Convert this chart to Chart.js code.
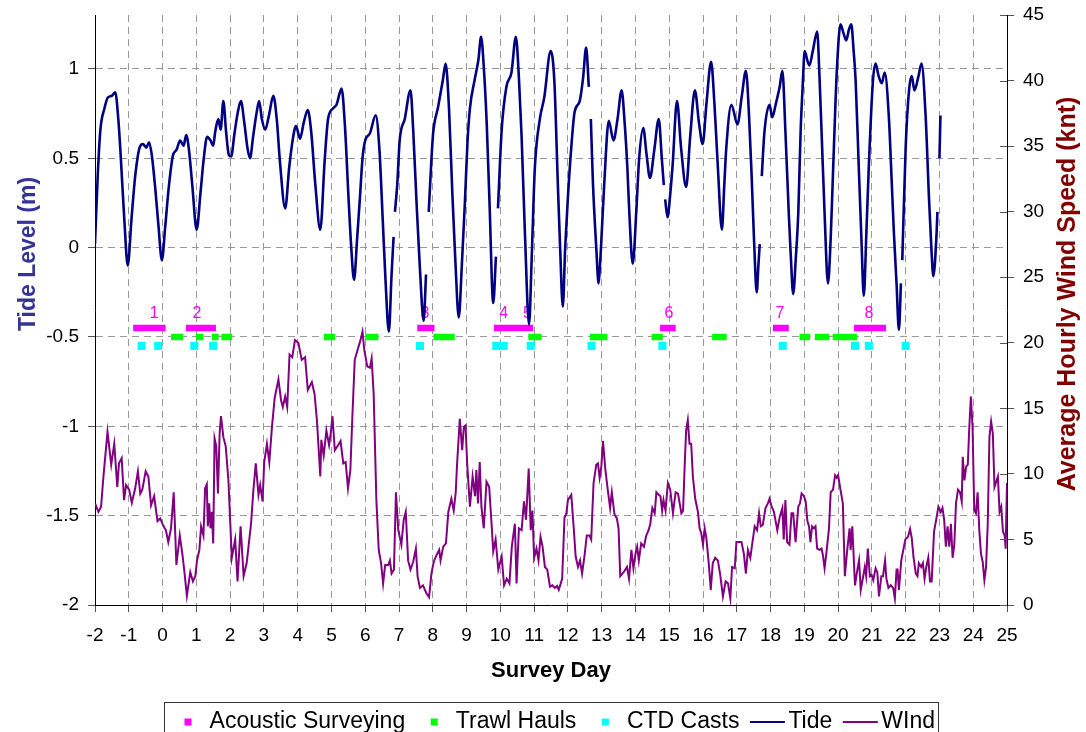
<!DOCTYPE html>
<html>
<head>
<meta charset="utf-8">
<title>Survey tide and wind record</title>
<script src="https://cdn.jsdelivr.net/npm/chart.js@4.4.1/dist/chart.umd.min.js"></script>
<style>
  html, body { margin: 0; padding: 0; background: #ffffff; }
  #wrap { width: 1086px; height: 732px; position: relative; overflow: hidden; }
</style>
</head>
<body>
<div id="wrap"><canvas id="chart" width="1086" height="732"></canvas></div>
<script>
// ---- Axis ticks ----
const dayTicks  = [-2,-1,0,1,2,3,4,5,6,7,8,9,10,11,12,13,14,15,16,17,18,19,20,21,22,23,24,25];
const tideTicks = [-2,-1.5,-1,-0.5,0,0.5,1];
const windTicks = [0,5,10,15,20,25,30,35,40,45];

// ---- Tide level (m) by survey day; null marks a break in the record ----
const tideDays = [
  -2.00,-1.92,-1.84,-1.72,-1.62,-1.50,-1.40,-1.31,-1.25,-1.13,
  -1.03,-0.92,-0.81,-0.68,-0.58,-0.48,-0.40,-0.32,-0.22,-0.12,
  -0.02,0.08,0.18,0.30,0.42,0.52,0.62,0.70,0.78,0.88,
  1.01,1.12,1.22,1.32,1.42,1.50,1.56,1.65,1.72,1.80,
  1.88,1.96,2.03,2.13,2.22,2.32,2.42,2.52,2.59,2.68,
  2.78,2.86,2.94,3.04,3.15,3.28,3.38,3.48,3.63,3.75,
  3.85,3.95,4.07,4.18,4.30,4.40,4.52,4.67,4.80,4.90,
  5.05,5.15,5.30,5.40,5.50,5.58,5.67,5.76,5.84,5.92,
  6.00,6.14,6.31,6.42,6.52,6.60,6.70,6.78,6.84,6.86,
  6.88,6.95,7.02,7.17,7.34,7.42,7.52,7.62,7.73,7.80,
  7.84,7.88,7.95,8.01,8.16,8.30,8.38,8.48,8.58,8.67,
  8.77,8.86,8.95,9.03,9.10,9.24,9.35,9.43,9.52,9.60,
  9.68,9.79,9.87,9.90,9.93,10.04,10.18,10.33,10.46,10.55,
  10.63,10.73,10.85,10.93,11.02,11.17,11.30,11.49,11.60,11.70,
  11.77,11.85,11.92,12.00,12.10,12.20,12.35,12.45,12.54,12.62,
  12.65,12.68,12.74,12.84,12.91,12.95,12.98,13.08,13.21,13.35,
  13.47,13.59,13.68,13.76,13.82,13.92,14.03,14.11,14.23,14.33,
  14.43,14.56,14.69,14.78,14.84,14.86,14.88,14.95,15.03,15.10,
  15.23,15.35,15.50,15.62,15.76,15.88,15.99,16.10,16.24,16.34,
  16.44,16.56,16.63,16.69,16.84,17.02,17.15,17.27,17.36,17.44,
  17.52,17.59,17.64,17.68,17.71,17.74,17.82,17.97,18.05,18.15,
  18.27,18.35,18.44,18.54,18.60,18.67,18.75,18.82,18.89,18.95,
  19.01,19.10,19.15,19.25,19.38,19.45,19.51,19.60,19.70,19.78,
  19.84,19.92,19.97,20.07,20.16,20.24,20.32,20.39,20.46,20.52,
  20.61,20.69,20.76,20.84,20.91,21.03,21.11,21.20,21.29,21.38,
  21.50,21.58,21.65,21.73,21.80,21.86,21.88,21.90,22.00,22.10,
  22.18,22.26,22.38,22.47,22.59,22.69,22.76,22.82,22.91,22.94,
  22.97,23.00,23.03
];
const tideLevels = [
  0.02,0.40,0.66,0.78,0.84,0.85,0.87,0.72,0.55,0.15,
  -0.10,0.16,0.40,0.56,0.58,0.56,0.59,0.52,0.34,0.12,
  -0.07,0.12,0.33,0.51,0.55,0.60,0.57,0.63,0.55,0.35,
  0.10,0.30,0.50,0.62,0.60,0.57,0.65,0.72,0.66,0.82,
  0.65,0.52,0.51,0.64,0.75,0.82,0.70,0.55,0.50,0.62,
  0.75,0.82,0.72,0.66,0.74,0.85,0.72,0.47,0.22,0.45,
  0.60,0.68,0.61,0.70,0.77,0.65,0.36,0.10,0.49,0.72,
  0.78,0.80,0.89,0.68,0.30,0.02,-0.18,0.05,0.27,0.50,
  0.60,0.64,0.74,0.55,0.15,-0.18,-0.47,-0.15,0.06,null,
  0.20,0.36,0.60,0.72,0.88,0.66,0.25,-0.12,-0.41,-0.15,
  null,0.20,0.46,0.64,0.79,0.94,1.03,0.78,0.30,-0.08,
  -0.39,-0.10,0.25,0.60,0.78,0.94,1.05,1.18,0.98,0.68,
  0.25,-0.31,-0.05,null,0.22,0.66,0.90,0.98,1.18,0.95,
  0.62,0.07,-0.43,-0.05,0.44,0.72,0.84,1.10,0.93,0.37,
  0.00,-0.33,0.00,0.28,0.56,0.76,0.82,0.95,1.12,0.90,
  null,0.72,0.37,0.00,-0.20,-0.10,0.00,0.37,0.71,0.60,
  0.72,0.88,0.70,0.45,0.19,-0.09,0.22,0.50,0.67,0.52,
  0.39,0.55,0.72,0.50,0.35,null,0.27,0.17,0.30,0.46,
  0.82,0.56,0.34,0.62,0.88,0.70,0.58,0.80,1.04,0.80,
  0.45,0.10,0.35,0.56,0.80,0.69,0.85,0.99,0.75,0.40,
  0.00,-0.25,-0.10,0.02,null,0.40,0.65,0.80,0.73,0.80,
  0.90,0.99,0.65,0.19,-0.05,-0.26,-0.05,0.19,0.65,0.90,
  1.10,1.04,1.02,1.10,1.21,0.95,0.65,0.19,-0.20,0.05,
  0.37,0.80,1.02,1.25,1.20,1.16,1.22,1.25,1.10,0.93,
  0.46,0.05,-0.27,0.10,0.46,0.93,1.03,0.96,0.92,0.98,
  0.74,0.40,0.09,-0.20,-0.46,-0.20,null,-0.07,0.56,0.88,
  0.96,0.88,0.96,1.03,0.74,0.28,0.00,-0.16,0.06,0.20,
  null,0.50,0.74
];

// ---- Average hourly wind speed (knots) by survey day ----
const windDays = [
  -2.00,-1.90,-1.82,-1.75,-1.63,-1.52,-1.43,-1.34,-1.29,-1.21,
  -1.14,-1.08,-0.99,-0.91,-0.81,-0.73,-0.66,-0.60,-0.50,-0.42,
  -0.34,-0.25,-0.15,-0.07,0.03,0.10,0.17,0.25,0.33,0.41,
  0.51,0.59,0.64,0.72,0.82,0.90,0.97,1.02,1.09,1.14,
  1.21,1.26,1.31,1.34,1.38,1.42,1.46,1.50,1.54,1.59,
  1.64,1.69,1.73,1.80,1.87,1.95,2.05,2.15,2.22,2.31,
  2.40,2.49,2.62,2.69,2.76,2.84,2.89,2.96,3.01,3.09,
  3.16,3.24,3.32,3.43,3.51,3.56,3.63,3.69,3.76,3.84,
  3.92,4.02,4.12,4.22,4.30,4.42,4.50,4.57,4.67,4.70,
  4.77,4.85,4.93,4.98,5.03,5.10,5.20,5.27,5.35,5.42,
  5.49,5.56,5.62,5.69,5.79,5.86,5.92,5.97,6.06,6.14,
  6.19,6.25,6.33,6.40,6.47,6.53,6.59,6.68,6.73,6.78,
  6.85,6.91,6.98,7.07,7.14,7.20,7.27,7.34,7.42,7.50,
  7.55,7.62,7.71,7.81,7.89,7.96,8.03,8.11,8.19,8.23,
  8.31,8.39,8.46,8.55,8.62,8.68,8.72,8.80,8.87,8.92,
  8.97,9.02,9.10,9.18,9.25,9.29,9.34,9.39,9.44,9.51,
  9.59,9.67,9.74,9.79,9.86,9.94,10.04,10.11,10.19,10.27,
  10.34,10.43,10.48,10.55,10.63,10.70,10.76,10.84,10.90,10.95,
  11.00,11.07,11.13,11.19,11.25,11.32,11.39,11.47,11.54,11.61,
  11.68,11.73,11.83,11.90,11.95,12.00,12.10,12.17,12.23,12.30,
  12.36,12.42,12.49,12.56,12.64,12.69,12.76,12.84,12.89,12.94,
  12.99,13.04,13.11,13.18,13.25,13.30,13.38,13.45,13.50,13.55,
  13.65,13.75,13.81,13.88,13.94,14.00,14.05,14.10,14.17,14.25,
  14.32,14.39,14.44,14.50,14.57,14.62,14.69,14.74,14.79,14.83,
  14.89,14.96,15.03,15.11,15.19,15.26,15.31,15.36,15.41,15.46,
  15.50,15.55,15.60,15.65,15.70,15.77,15.85,15.90,15.95,16.00,
  16.05,16.10,16.17,16.23,16.29,16.36,16.44,16.51,16.59,16.67,
  16.74,16.81,16.86,16.94,16.99,17.07,17.14,17.21,17.27,17.33,
  17.40,17.46,17.53,17.60,17.66,17.71,17.77,17.85,17.92,17.97,
  18.02,18.10,18.20,18.27,18.35,18.39,18.44,18.49,18.56,18.62,
  18.67,18.74,18.82,18.87,18.92,18.99,19.04,19.09,19.14,19.18,
  19.23,19.28,19.33,19.38,19.45,19.51,19.55,19.60,19.65,19.73,
  19.78,19.85,19.91,19.96,20.00,20.07,20.14,20.20,20.27,20.34,
  20.37,20.42,20.50,20.57,20.62,20.67,20.73,20.79,20.83,20.88,
  20.94,20.99,21.04,21.11,21.16,21.21,21.28,21.33,21.39,21.43,
  21.49,21.56,21.63,21.68,21.73,21.76,21.80,21.87,21.93,21.99,
  22.07,22.13,22.18,22.23,22.30,22.35,22.39,22.46,22.51,22.56,
  22.61,22.67,22.72,22.77,22.84,22.91,22.97,23.04,23.09,23.14,
  23.19,23.24,23.29,23.34,23.39,23.44,23.49,23.55,23.61,23.66,
  23.69,23.74,23.79,23.84,23.88,23.93,23.98,24.03,24.08,24.13,
  24.18,24.23,24.28,24.33,24.38,24.43,24.48,24.53,24.58,24.63,
  24.68,24.73,24.78,24.83,24.88,24.93,24.96,25.00
];
const windSpeeds = [
  7.75,7.1,7.5,9.8,13.2,10.7,12.3,9.0,10.8,11.2,
  8.0,9.15,8.8,7.8,8.9,10.2,8.5,8.8,10.2,9.8,
  7.6,8.3,6.4,6.6,6.0,5.7,4.8,5.85,8.6,3.05,
  5.3,3.8,2.7,0.7,2.5,1.8,2.2,3.4,4.2,6.0,
  5.3,8.9,9.2,6.0,7.75,5.85,7.1,4.7,12.7,12.1,
  8.5,13.1,14.4,12.8,12.1,9.5,3.6,5.0,1.8,6.0,
  2.2,3.2,6.2,8.8,10.8,8.4,9.15,7.9,10.9,12.3,
  10.9,13.6,15.8,17.2,15.6,15.1,15.9,15.1,19.1,18.9,
  20.2,20.0,18.7,18.9,16.4,17.0,16.1,14.1,9.8,12.6,
  11.4,13.3,12.2,13.1,14.4,11.8,12.2,12.5,10.8,10.9,
  8.9,10.3,14.4,18.7,19.6,20.2,20.85,19.5,18.2,18.1,
  18.8,16.1,8.0,4.2,3.2,1.65,3.05,3.05,3.4,2.4,
  2.7,8.6,5.7,4.6,6.5,7.1,3.4,2.7,3.3,4.3,
  2.2,1.3,1.5,0.9,0.6,2.4,3.3,3.8,4.2,3.4,
  4.45,4.7,7.1,8.1,7.2,8.6,10.8,14.2,11.8,13.6,
  13.7,10.7,7.5,9.8,8.3,10.3,7.75,10.9,7.5,5.85,
  9.4,9.0,6.2,4.1,5.0,2.7,3.7,1.5,2.0,1.65,
  4.45,6.2,1.65,5.85,5.7,7.9,6.5,10.4,5.7,7.2,
  3.6,4.3,3.4,5.2,4.45,2.9,2.7,1.4,1.5,1.3,
  1.45,1.15,2.0,6.7,6.9,8.0,8.4,6.0,3.7,2.9,
  3.4,2.4,3.7,5.3,5.3,5.0,9.3,10.7,10.8,9.7,
  10.55,12.5,10.3,8.8,7.4,8.6,6.9,6.6,5.85,2.2,
  2.5,2.9,2.0,4.2,2.8,3.9,4.45,3.4,4.7,4.45,
  5.3,5.7,6.2,7.4,7.0,8.6,8.4,8.3,7.2,8.0,
  7.2,9.3,8.8,7.0,8.6,8.5,7.75,7.0,7.2,10.8,
  13.3,14.1,12.3,12.3,9.8,8.1,7.1,5.85,5.45,4.6,
  5.85,5.1,3.2,1.15,3.2,3.6,3.4,2.3,0.65,1.8,
  1.65,0.5,2.9,2.8,4.8,4.8,4.8,3.9,2.4,4.2,
  3.6,4.7,6.0,5.7,7.0,6.0,6.1,7.4,7.75,8.1,
  7.6,7.1,5.7,6.7,7.4,5.0,8.0,4.8,4.6,7.0,
  7.0,4.8,7.5,7.75,8.5,8.3,7.9,6.4,6.0,4.8,
  6.0,5.85,6.0,4.3,4.2,4.3,3.8,2.8,3.9,5.85,
  8.6,8.8,9.9,9.7,9.9,8.8,7.75,2.2,4.2,5.85,
  4.2,6.0,1.5,2.7,3.4,1.15,2.0,2.9,2.2,4.3,
  2.2,2.3,1.9,2.8,2.5,0.65,2.2,2.2,3.4,2.0,
  1.3,1.5,1.3,0.5,2.7,2.7,1.15,3.4,4.2,5.0,
  5.2,5.8,5.1,3.7,2.4,2.2,3.2,2.9,3.2,2.0,
  2.9,3.6,1.8,1.8,5.6,6.6,7.5,7.1,7.4,6.5,
  4.45,6.0,4.45,6.2,3.6,4.6,7.75,8.8,8.6,7.9,
  11.3,9.5,10.55,10.7,13.35,15.9,13.6,7.25,7.0,8.6,
  5.7,3.9,3.3,1.9,2.9,6.2,12.8,14.0,13.1,9.0,
  9.4,9.8,7.1,7.5,5.6,5.3,4.3,9.3
];

// ---- Field activities (survey day start / end of each period) ----
const acousticStart = [-0.87, 0.69, 7.54, 9.81, 14.73, 18.07, 20.47];
const acousticEnd   = [ 0.09, 1.58, 8.05, 10.97, 15.19, 18.54, 21.42];
const trawlStart = [0.25, 0.99, 1.46, 1.74, 4.78, 6.00, 8.02, 10.83, 12.65, 14.48, 16.27, 18.86, 19.31, 19.84];
const trawlEnd   = [0.61, 1.21, 1.66, 2.06, 5.11, 6.39, 8.65, 11.22, 13.17, 14.81, 16.70, 19.17, 19.74, 20.56];
const ctdDays = [-0.62, -0.13, 0.94, 1.50, 7.62, 9.88, 10.10, 10.90, 12.70, 14.80, 18.36, 20.50, 20.91, 22.00];

// Acoustic survey numbers and the day each one is written at
const surveyNumbers    = ['1', '2', '3', '4', '5', '6', '7', '8'];
const surveyNumberDays = [-0.25, 1.02, 7.77, 10.10, 10.80, 14.99, 18.28, 20.91];

// Tide-axis levels used to stack the activity rows under the tide curve
const ACOUSTIC_LEVEL = -0.45;
const TRAWL_LEVEL = -0.50;
const CTD_LEVEL = -0.55;
const NUMBER_LEVEL = -0.37;
const TIDE_AXIS_MAX = 1.302;

const FONT = '"Liberation Sans", Arial, Helvetica, sans-serif';
const COLORS = {
  acoustic: '#FF00FF', trawl: '#00FF00', ctd: '#00FFFF',
  tide: '#000080', wind: '#800080',
  grid: '#999999', tick: '#555555',
  tideTitle: '#333399', windTitle: '#800000'
};

Chart.defaults.font.family = FONT;
Chart.defaults.color = '#000000';

// Build a broken line: one flat run per activity period
function periodRuns(starts, ends, level) {
  const pts = [];
  starts.forEach((s, i) => {
    pts.push({ x: s, y: level }, { x: ends[i], y: level }, { x: ends[i], y: null });
  });
  return pts;
}

const pairs = (xs, ys) => xs.map((d, i) => ({ x: d, y: ys[i] }));

// Fixed axis box sizes, without extra room for overhanging end labels
function fixBox(size, horizontal) {
  return s => {
    if (horizontal) { s.height = size; } else { s.width = size; }
    s.paddingTop = 0; s.paddingBottom = 0; s.paddingLeft = 0; s.paddingRight = 0;
  };
}

// Axis titles, survey numbers, inner ticks of the wind axis and the framed legend
const decorations = {
  id: 'decorations',
  beforeDatasetsDraw(chart) {
    const { ctx, scales } = chart;
    ctx.save();
    ctx.fillStyle = COLORS.acoustic;
    ctx.font = '16px ' + FONT;
    ctx.textAlign = 'center';
    ctx.textBaseline = 'middle';
    const yNum = scales.y.getPixelForValue(NUMBER_LEVEL);
    surveyNumbers.forEach((n, i) => {
      ctx.fillText(n, scales.x.getPixelForValue(surveyNumberDays[i]), yNum);
    });
    ctx.restore();
  },
  afterDraw(chart) {
    const { ctx, chartArea, scales } = chart;
    ctx.save();

    // wind axis tick marks also reach inside the plot
    ctx.strokeStyle = COLORS.tick;
    ctx.lineWidth = 1;
    scales.y2.ticks.forEach(t => {
      const py = Math.round(scales.y2.getPixelForValue(t.value)) + 0.5;
      ctx.beginPath();
      ctx.moveTo(chartArea.right - 7, py);
      ctx.lineTo(chartArea.right, py);
      ctx.stroke();
    });

    // axis titles
    ctx.textAlign = 'center';
    ctx.textBaseline = 'middle';
    ctx.font = 'bold 23px ' + FONT;
    ctx.fillStyle = COLORS.tideTitle;
    ctx.save();
    ctx.translate(29, 254);
    ctx.rotate(-Math.PI / 2);
    ctx.fillText('Tide Level (m)', 0, 0);
    ctx.restore();

    ctx.font = 'bold 25px ' + FONT;
    ctx.fillStyle = COLORS.windTitle;
    ctx.save();
    ctx.translate(1068, 294);
    ctx.rotate(-Math.PI / 2);
    ctx.fillText('Average Hourly Wind Speed (knt)', 0, 0);
    ctx.restore();

    ctx.fillStyle = '#000000';
    ctx.font = 'bold 22px ' + FONT;
    ctx.fillText('Survey Day', (chartArea.left + chartArea.right) / 2, 671);

    // legend, framed, running off the bottom edge
    const boxLeft = 164.5, boxTop = 702.5, boxRight = 938.5;
    ctx.strokeStyle = '#333333';
    ctx.lineWidth = 1;
    ctx.strokeRect(boxLeft, boxTop, boxRight - boxLeft, 80);

    const rowY = 722;
    ctx.font = '23px ' + FONT;
    ctx.textAlign = 'left';
    let cur = boxLeft - 5.5;
    chart.data.datasets.forEach(ds => {
      let textX;
      if (ds.legendKind === 'square') {
        const cx = cur + 29;
        ctx.fillStyle = ds.borderColor;
        ctx.fillRect(cx - 3.5, rowY - 3.5, 7, 7);
        textX = cx + 21.6;
      } else {
        const x0 = cur + 10.5;
        ctx.strokeStyle = ds.borderColor;
        ctx.lineWidth = 2;
        ctx.beginPath();
        ctx.moveTo(x0, rowY);
        ctx.lineTo(x0 + 35, rowY);
        ctx.stroke();
        textX = x0 + 38.5;
      }
      ctx.fillStyle = '#000000';
      ctx.fillText(ds.label, textX, rowY);
      cur = textX + ctx.measureText(ds.label).width;
    });
    ctx.restore();
  }
};

const edgeless = (edges) => (c) => (c.tick && edges.includes(c.tick.value)) ? 'rgba(0,0,0,0)' : COLORS.grid;

new Chart(document.getElementById('chart'), {
  type: 'line',
  data: {
    datasets: [
      {
        label: 'Acoustic Surveying', legendKind: 'square',
        data: periodRuns(acousticStart, acousticEnd, ACOUSTIC_LEVEL),
        yAxisID: 'y', borderColor: COLORS.acoustic, backgroundColor: COLORS.acoustic,
        borderWidth: 6.5, borderCapStyle: 'butt', pointRadius: 0, order: 2
      },
      {
        label: 'Trawl Hauls', legendKind: 'square',
        data: periodRuns(trawlStart, trawlEnd, TRAWL_LEVEL),
        yAxisID: 'y', borderColor: COLORS.trawl, backgroundColor: COLORS.trawl,
        borderWidth: 6.5, borderCapStyle: 'butt', pointRadius: 0, order: 2
      },
      {
        label: 'CTD Casts', legendKind: 'square',
        data: ctdDays.map(d => ({ x: d, y: CTD_LEVEL })),
        yAxisID: 'y', showLine: false, borderColor: COLORS.ctd, backgroundColor: COLORS.ctd,
        pointStyle: 'rect', pointRadius: 5.7, pointBorderWidth: 0, order: 2
      },
      {
        label: 'Tide', legendKind: 'line',
        data: pairs(tideDays, tideLevels),
        yAxisID: 'y', borderColor: COLORS.tide, backgroundColor: COLORS.tide,
        borderWidth: 2.6, pointRadius: 0, cubicInterpolationMode: 'monotone', order: 0
      },
      {
        label: 'WInd', legendKind: 'line',
        data: pairs(windDays, windSpeeds),
        yAxisID: 'y2', borderColor: COLORS.wind, backgroundColor: COLORS.wind,
        borderWidth: 2, pointRadius: 0, tension: 0, order: 1
      }
    ]
  },
  options: {
    responsive: false,
    animation: false,
    events: [],
    layout: { padding: { top: 15, bottom: 67, left: 0, right: 0 } },
    plugins: { legend: { display: false }, tooltip: { enabled: false } },
    scales: {
      x: {
        type: 'linear', min: -2, max: 25,
        afterBuildTicks: s => { s.ticks = dayTicks.map(v => ({ value: v })); },
        afterFit: fixBox(60, true),
        ticks: { autoSkip: false, maxRotation: 0, padding: 12, font: { size: 19 }, callback: v => String(v) },
        grid: { color: edgeless([-2, 25]), lineWidth: 1, tickLength: 7, tickColor: COLORS.tick, tickWidth: 1, tickBorderDash: [] },
        border: { display: true, color: '#000000', width: 1, dash: [7, 5] }
      },
      y: {
        type: 'linear', position: 'left', min: -2, max: TIDE_AXIS_MAX,
        afterBuildTicks: s => { s.ticks = tideTicks.map(v => ({ value: v })); },
        afterFit: fixBox(95, false),
        ticks: { padding: 9, font: { size: 19 }, callback: v => String(v) },
        grid: { color: edgeless([-2]), lineWidth: 1, tickLength: 7, tickColor: COLORS.tick, tickWidth: 1, tickBorderDash: [] },
        border: { display: true, color: '#000000', width: 1, dash: [7, 5] }
      },
      y2: {
        type: 'linear', position: 'right', min: 0, max: 45,
        afterBuildTicks: s => { s.ticks = windTicks.map(v => ({ value: v })); },
        afterFit: fixBox(79, false),
        ticks: { padding: 9, font: { size: 19 }, callback: v => String(v) },
        grid: { drawOnChartArea: false, tickLength: 7, tickColor: COLORS.tick, tickWidth: 1 },
        border: { display: true, color: '#000000', width: 1 }
      }
    }
  },
  plugins: [decorations]
});
</script>
</body>
</html>
